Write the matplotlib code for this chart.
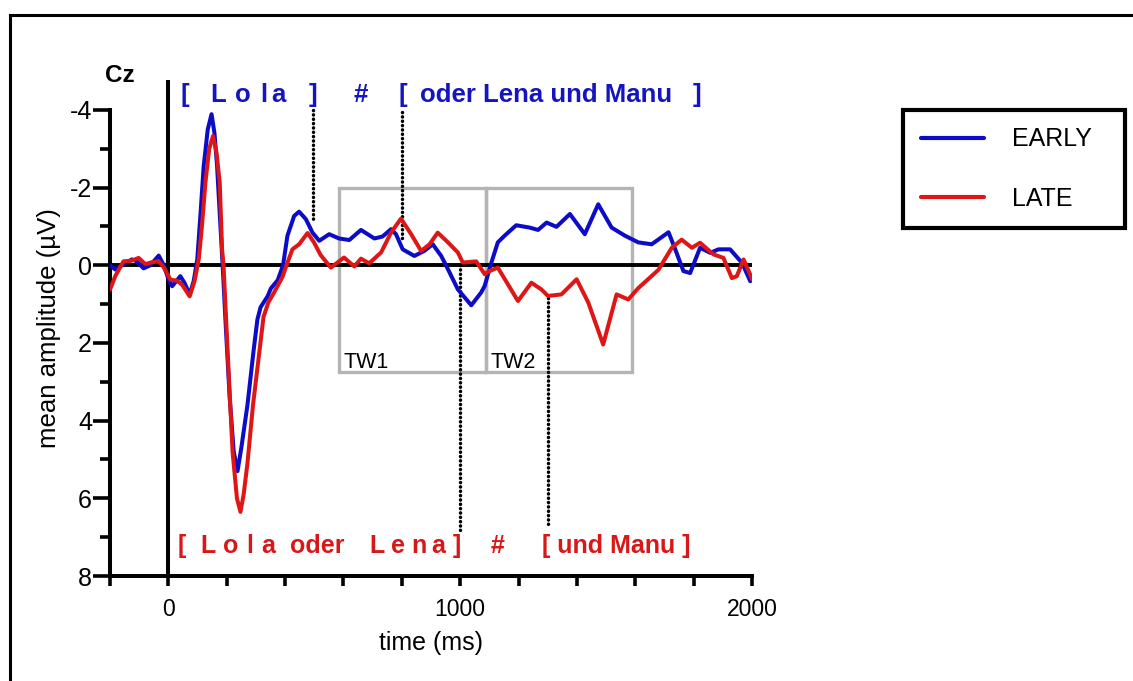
import matplotlib
matplotlib.use('Agg')
import matplotlib.pyplot as plt
from matplotlib.lines import Line2D
from matplotlib.patches import Rectangle
from matplotlib.ticker import MultipleLocator

plt.rcParams['font.family'] = ['Liberation Sans', 'DejaVu Sans']
plt.rcParams['axes.unicode_minus'] = False

# grand average ERP at Cz, time in ms, amplitude in µV
early_t = [-200, -182, -159, -125, -108, -85, -62, -33, -16, 1, 13, 28, 41, 55, 73, 87, 99,
           110, 121, 135, 148, 158, 167, 177, 186, 197, 210, 224, 237, 250, 271, 292, 305,
           316, 340, 351, 375, 393, 408, 431, 448, 471, 494, 517, 551, 585, 620, 660, 706,
           734, 763, 780, 803, 843, 877, 906, 935, 958, 992, 1038, 1072, 1084, 1107, 1129,
           1152, 1192, 1238, 1267, 1296, 1330, 1376, 1427, 1473, 1519, 1565, 1610, 1656,
           1714, 1737, 1765, 1788, 1822, 1857, 1885, 1925, 1966, 1994, 2000]
early_v = [0.0, 0.11, 0.0, -0.15, -0.1, 0.08, 0.0, -0.25, 0.0, 0.37, 0.54, 0.4, 0.28, 0.45,
           0.75, 0.4, -0.15, -1.3, -2.55, -3.5, -3.89, -3.4, -2.55, -1.2, 0.0, 1.6, 3.4, 4.8,
           5.3, 4.7, 3.6, 2.2, 1.4, 1.08, 0.8, 0.6, 0.38, 0.0, -0.76, -1.27, -1.38, -1.19,
           -0.84, -0.63, -0.8, -0.69, -0.65, -0.91, -0.69, -0.74, -0.93, -0.8, -0.41, -0.24,
           -0.37, -0.54, -0.24, 0.1, 0.62, 1.03, 0.7, 0.53, -0.07, -0.59, -0.76, -1.03, -0.97,
           -0.91, -1.1, -0.99, -1.32, -0.8, -1.57, -0.97, -0.76, -0.59, -0.54, -0.85, -0.41,
           0.15, 0.2, -0.45, -0.32, -0.41, -0.41, -0.06, 0.41, 0.33]

late_t = [-200, -182, -154, -125, -102, -79, -56, -33, -16, 7, 30, 47, 73, 90, 104, 115, 127,
          140, 153, 165, 176, 184, 189, 203, 220, 235, 247, 258, 271, 290, 306, 326, 343, 361,
          391, 405, 425, 448, 477, 499, 522, 557, 602, 637, 660, 688, 729, 763, 797, 832, 866,
          895, 923, 958, 992, 1009, 1055, 1084, 1100, 1129, 1198, 1244, 1278, 1301, 1347,
          1399, 1439, 1490, 1536, 1576, 1610, 1679, 1725, 1759, 1794, 1822, 1868, 1902, 1931,
          1948, 1971, 1994, 2000]
late_v = [0.63, 0.28, -0.1, -0.12, -0.19, -0.03, -0.08, -0.1, 0.05, 0.37, 0.4, 0.5, 0.8, 0.4,
          -0.15, -1.0, -2.13, -3.0, -3.33, -2.9, -2.13, -0.41, 0.0, 2.2, 4.8, 6.0, 6.35, 5.9,
          5.1, 3.6, 2.6, 1.33, 0.95, 0.72, 0.3, 0.0, -0.41, -0.54, -0.83, -0.59, -0.26, 0.06,
          -0.2, 0.03, -0.17, -0.05, -0.33, -0.84, -1.2, -0.8, -0.37, -0.54, -0.84, -0.59,
          -0.33, -0.07, -0.1, 0.23, 0.15, 0.06, 0.92, 0.45, 0.62, 0.79, 0.75, 0.36, 0.96, 2.04,
          0.75, 0.88, 0.59, 0.12, -0.45, -0.66, -0.45, -0.58, -0.28, -0.19, 0.33, 0.28, -0.15,
          0.24, 0.36]

conditions = ['EARLY', 'LATE']
colors = ['#0b0bc8', '#de1616']

# analysis time windows (ms) and their amplitude extent
tw_labels = ['TW1', 'TW2']
tw_edges = [585, 1090, 1590]
tw_top, tw_bottom = -2.0, 2.75

# word boundary markers: x position, start and end amplitude
marker_x = [495, 800, 1000, 1300]
marker_y0 = [-4.0, -3.95, 0.0, 0.85]
marker_y1 = [-1.15, -0.6, 6.85, 6.75]

# sentence segmentation, EARLY (top) and LATE (bottom); spaced names letter by letter
early_words = ['[', 'L', 'o', 'l', 'a', ']', '#', '[', 'oder Lena und Manu', ']']
early_word_x = [41, 144, 230, 315, 354, 479, 634, 788, 863, 1798]
late_words = ['[', 'L', 'o', 'l', 'a', 'oder', 'L', 'e', 'n', 'a', ']', '#', '[ und Manu ]']
late_word_x = [31, 110, 188, 268, 320, 418, 690, 764, 832, 901, 975, 1103, 1281]

fig = plt.figure(figsize=(11.33, 6.81), dpi=100)
ax = fig.add_axes([110 / 1133, 105 / 681, 642 / 1133, 496 / 681])

ax.axhline(0, color='black', lw=2.8, zorder=2)
ax.axvline(0, color='black', lw=2.9, zorder=2)

for i in range(2):
    x0, x1 = tw_edges[i], tw_edges[i + 1]
    ax.add_patch(Rectangle((x0, tw_top), x1 - x0, tw_bottom - tw_top, fill=False,
                           edgecolor='#b4b4b4', lw=2.4, zorder=1))
    ax.text(x0 + 14, tw_bottom - 0.1, tw_labels[i], fontsize=15.5, ha='left', va='baseline')

for x, y0, y1 in zip(marker_x, marker_y0, marker_y1):
    ax.plot([x, x], [y0, y1], color='black', lw=2.5, linestyle=(0, (0.05, 1.2)),
            dash_capstyle='round', zorder=2)

handles = []
for t, v, c, name in zip([early_t, late_t], [early_v, late_v], colors, conditions):
    h, = ax.plot(t, v, color=c, lw=2.9, solid_joinstyle='round', solid_capstyle='round',
                 label=name, zorder=3)
    handles.append(h)

for w, x in zip(early_words, early_word_x):
    ax.text(x, -4.21, w, color='#1414c0', fontsize=18.5, fontweight='bold',
            ha='left', va='baseline', clip_on=False)
for w, x in zip(late_words, late_word_x):
    ax.text(x, 7.41, w, color='#d81818', fontsize=18, fontweight='bold',
            ha='left', va='baseline', clip_on=False)

ax.text(-218, -4.72, 'Cz', fontsize=17.5, fontweight='bold', ha='left', va='baseline',
        clip_on=False)

ax.set_xlim(-200, 2000)
ax.set_ylim(8, -4.77)
ax.spines['top'].set_visible(False)
ax.spines['right'].set_visible(False)
ax.spines['left'].set_bounds(-4, 8)
for s in ['left', 'bottom']:
    ax.spines[s].set_linewidth(2.9)

ax.set_xticks([0, 1000, 2000])
ax.xaxis.set_minor_locator(MultipleLocator(200))
ax.set_yticks([-4, -2, 0, 2, 4, 6, 8])
ax.yaxis.set_minor_locator(MultipleLocator(1))
ax.tick_params(axis='x', which='both', length=7, width=2.6, direction='out')
ax.tick_params(axis='x', which='major', labelsize=16.5, pad=9)
ax.tick_params(axis='y', which='major', length=12, width=2.6, labelsize=18, pad=1)
ax.tick_params(axis='y', which='minor', length=7, width=2.6)

ax.set_xlabel('time (ms)', fontsize=18, labelpad=7)
ax.set_ylabel('mean amplitude (µV)', fontsize=18.5, labelpad=6)

leg = fig.legend(handles=handles, loc='upper left',
                 bbox_to_anchor=(903 / 1133, (681 - 225) / 681, 222 / 1133, 115 / 681),
                 mode='expand', fontsize=18, frameon=True, fancybox=False,
                 edgecolor='black', framealpha=1, borderpad=0.7, borderaxespad=0,
                 handlelength=2.55, handletextpad=1.1, labelspacing=1.4)
leg.get_frame().set_linewidth(3)
for line in leg.get_lines():
    line.set_linewidth(3)

# frame around the whole panel
fig.add_artist(Line2D([10 / 1133, 1], [1 - 15 / 681] * 2, color='black', lw=2.2,
                      transform=fig.transFigure))
fig.add_artist(Line2D([10 / 1133] * 2, [0, 1 - 15 / 681], color='black', lw=2.2,
                      transform=fig.transFigure))

fig.savefig('out.png', dpi=100)
